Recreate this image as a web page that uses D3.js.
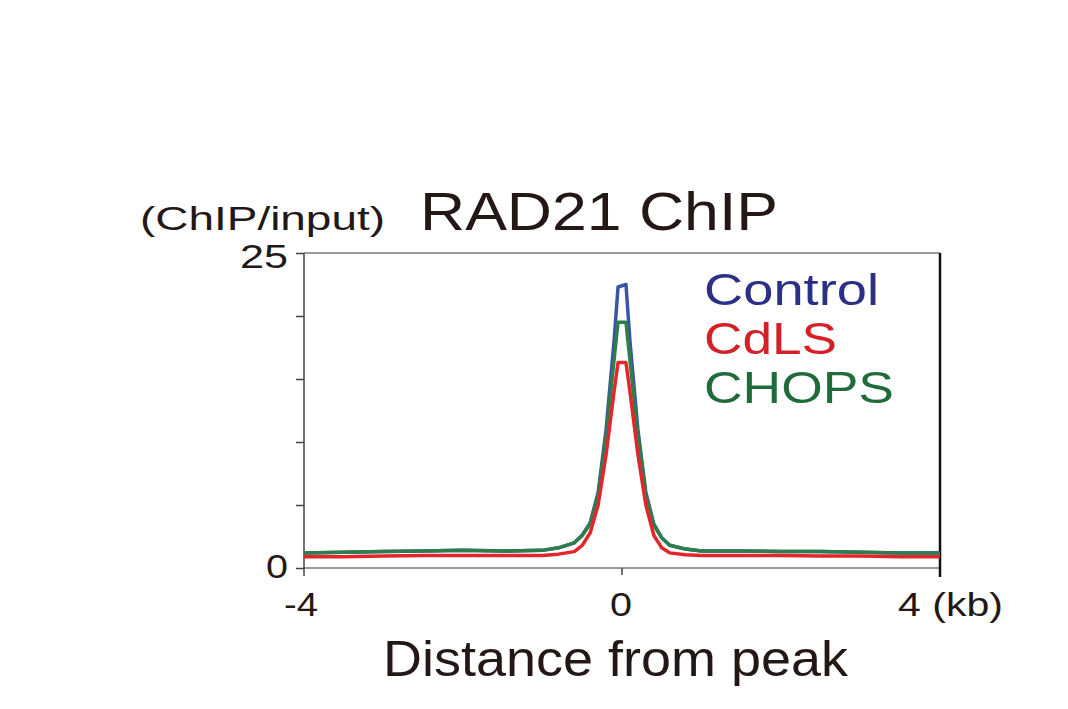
<!DOCTYPE html><html><head><meta charset="utf-8"><script src="https://cdn.jsdelivr.net/npm/d3@7"></script>
<style>body{margin:0;background:#fff}text{font-family:"Liberation Sans",Arial,sans-serif;fill:#231815}</style></head><body>
<svg id="c" width="1068" height="709"></svg>
<script>
const xs=[-4,-3.5,-3,-2.5,-2,-1.5,-1,-0.8,-0.6,-0.5,-0.4,-0.3,-0.2,-0.1,-0.05,0.05,0.1,0.2,0.3,0.4,0.5,0.6,0.8,1,1.5,2,2.5,3,3.5,4];
const control=[1.2,1.25,1.3,1.35,1.4,1.35,1.4,1.6,2.0,2.6,3.6,6,11,18,22.3,22.5,18,11,6,3.5,2.4,1.8,1.5,1.35,1.35,1.3,1.3,1.25,1.2,1.2];
const chops=[1.2,1.25,1.3,1.35,1.4,1.35,1.4,1.6,2.0,2.6,3.5,5.8,10.5,16.5,19.5,19.5,16.5,10.5,5.8,3.4,2.4,1.8,1.5,1.35,1.35,1.3,1.3,1.25,1.2,1.2];
const cdls=[0.9,0.9,0.95,1.0,1.0,1.0,1.0,1.1,1.3,1.8,2.8,5,9,14,16.3,16.3,14,9,5,2.6,1.6,1.2,1.05,1.0,1.0,1.0,0.95,0.95,0.9,0.9];
const series=[{name:"Control",v:control,c:"#3a55a8",t:"#2b2f86",w:175},{name:"CdLS",v:cdls,c:"#e3262c",t:"#d42027",w:133},{name:"CHOPS",v:chops,c:"#2f7d4b",t:"#1f6b3a",w:190}];
const yTicks=[0,5,10,15,20,25];
const svg=d3.select("#c");
const x=d3.scaleLinear().domain([-4,4]).range([304,940]);
const y=d3.scaleLinear().domain([0,25]).range([568,253]);
svg.append("line").attr("x1",304).attr("x2",940).attr("y1",253).attr("y2",253).attr("stroke","#777").attr("stroke-width",1.5);
svg.append("line").attr("x1",304).attr("x2",940).attr("y1",568).attr("y2",568).attr("stroke","#777").attr("stroke-width",1.5);
svg.append("line").attr("x1",940).attr("x2",940).attr("y1",253).attr("y2",577).attr("stroke","#111").attr("stroke-width",2.5);
const ya=svg.append("g").attr("transform","translate(304,0)").call(d3.axisLeft(y).tickValues(yTicks).tickSize(8).tickFormat(""));
ya.select(".domain").attr("stroke","#444").attr("stroke-width",1.5).attr("d","M0,253V576");
ya.selectAll("line").attr("stroke","#444").attr("stroke-width",1.5);
svg.append("line").attr("x1",x(0)).attr("x2",x(0)).attr("y1",568).attr("y2",575).attr("stroke","#444").attr("stroke-width",1.5);
const line=d3.line().x((d,i)=>x(xs[i])).y(d=>y(d));
[series[0],series[2],series[1]].forEach(s=>svg.append("path").attr("d",line(s.v)).attr("fill","none").attr("stroke",s.c).attr("stroke-width",3.5).attr("stroke-linejoin","round"));
function t(xp,yp,size,str,len,anchor){const e=svg.append("text").attr("x",xp).attr("y",yp).attr("font-size",size).attr("text-anchor",anchor||"start").text(str);if(len)e.attr("textLength",len).attr("lengthAdjust","spacingAndGlyphs");return e;}
t(240,268,34,"25",48);
t(266,578,34,"0",22);
t(284,616,34,"-4",34);
t(610,616,34,"0",22);
t(898,616,34,"4 (kb)",105);
t(140,230,34,"(ChIP/input)",245);
t(420,230,54,"RAD21 ChIP",358);
t(383,676,50,"Distance from peak",465);
series.forEach((s,i)=>t(704,305+i*49,45,s.name,s.w).style("fill",s.t));
</script></body></html>
